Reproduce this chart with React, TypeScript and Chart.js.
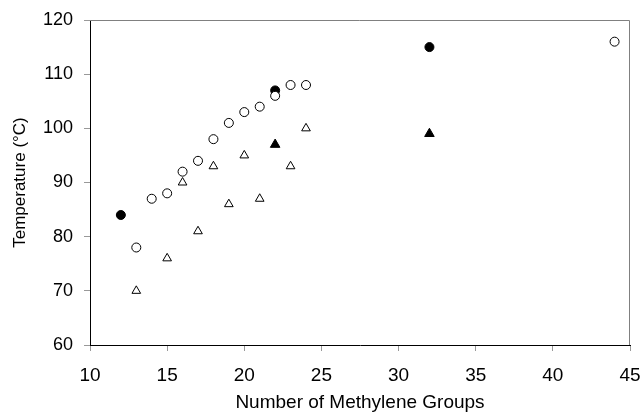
import React, { useEffect, useRef } from "react";
import { Chart, registerables } from "chart.js";

Chart.register(...registerables);

const openCircleX = [13, 14, 15, 16, 17, 18, 19, 20, 21, 22, 23, 24, 44];
const openCircleY = [78, 87, 88, 92, 94, 98, 101, 103, 104, 106, 108, 108, 116];
const filledCircleX = [12, 22, 32];
const filledCircleY = [84, 107, 115];
const openTriangleX = [13, 15, 16, 17, 18, 19, 20, 21, 23, 24];
const openTriangleY = [70, 76, 90, 81, 93, 86, 95, 87, 93, 100];
const filledTriangleX = [22, 32];
const filledTriangleY = [97, 99];

const xTitle = "Number of Methylene Groups";
const yTitle = "Temperature (°C)";

const pts = (xs: number[], ys: number[]) => xs.map((x, i) => ({ x, y: ys[i] }));

const frame = {
  id: "frame",
  afterDraw(chart: any) {
    const { ctx, chartArea } = chart;
    ctx.save();
    ctx.strokeStyle = "#808080";
    ctx.lineWidth = 1;
    ctx.beginPath();
    ctx.moveTo(chartArea.left, chartArea.top + 0.5);
    ctx.lineTo(chartArea.right - 0.5, chartArea.top + 0.5);
    ctx.lineTo(chartArea.right - 0.5, chartArea.bottom);
    ctx.stroke();
    ctx.restore();
  },
};

export default function App() {
  const ref = useRef<HTMLCanvasElement>(null);
  useEffect(() => {
    document.body.style.margin = "0";
    const family = "'Liberation Sans', Arial, sans-serif";
    const font = { family, size: 18 };
    const chart = new Chart(ref.current!, {
      type: "scatter",
      data: {
        datasets: [
          {
            data: pts(openCircleX, openCircleY),
            pointStyle: "circle",
            pointRadius: 4.5,
            backgroundColor: "#ffffff",
            borderColor: "#000000",
            borderWidth: 1,
          },
          {
            data: pts(filledCircleX, filledCircleY),
            pointStyle: "circle",
            pointRadius: 4.5,
            backgroundColor: "#000000",
            borderColor: "#000000",
            borderWidth: 1,
          },
          {
            data: pts(openTriangleX, openTriangleY),
            pointStyle: "triangle",
            pointRadius: 5,
            backgroundColor: "#ffffff",
            borderColor: "#000000",
            borderWidth: 1,
          },
          {
            data: pts(filledTriangleX, filledTriangleY),
            pointStyle: "triangle",
            pointRadius: 5.5,
            backgroundColor: "#000000",
            borderColor: "#000000",
            borderWidth: 1,
          },
        ],
      },
      options: {
        animation: false,
        responsive: false,
        layout: { padding: { top: 20, right: 12, left: 0, bottom: 0 } },
        plugins: { legend: { display: false }, tooltip: { enabled: false } },
        scales: {
          x: {
            type: "linear",
            min: 10,
            max: 45,
            ticks: { stepSize: 5, color: "#000", font: { family, size: 19 }, padding: 13, maxRotation: 0 },
            grid: { drawOnChartArea: false, drawTicks: true, tickLength: 6, color: "#999" },
            border: { color: "#000", width: 1 },
            title: { display: true, text: xTitle, color: "#000", font: { family, size: 19 }, padding: { top: 8, bottom: 4 } },
            afterFit: (s: any) => {
              s.height = 418 - 345;
              s.paddingLeft = 0;
              s.paddingRight = 0;
            },
          },
          y: {
            min: 60,
            max: 120,
            ticks: { stepSize: 10, color: "#000", font, padding: 11 },
            grid: { drawOnChartArea: false, drawTicks: true, tickLength: 6, color: "#999" },
            border: { color: "#000", width: 1 },
            title: { display: true, text: yTitle, color: "#000", font: { family, size: 17 }, padding: { top: 10, bottom: 8 } },
            afterFit: (s: any) => {
              s.width = 90;
              s.paddingTop = 0;
              s.paddingBottom = 0;
            },
          },
        },
      },
      plugins: [frame],
    });
    return () => chart.destroy();
  }, []);
  return (
    <div style={{ width: 642, height: 418 }}>
      <canvas ref={ref} width={642} height={418} style={{ display: "block" }} />
    </div>
  );
}
